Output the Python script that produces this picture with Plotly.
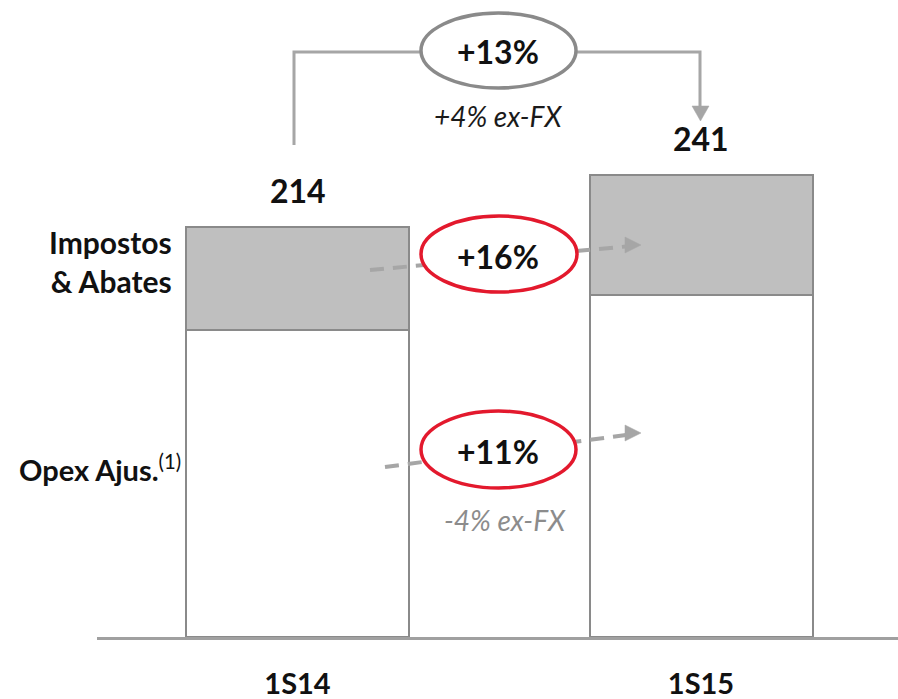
import plotly.graph_objects as go

# Data
periods = ["1S14", "1S15"]
opex_ajus = [160.2, 178.4]
impostos_abates = [53.8, 62.6]
totals = [214, 241]
total_growth = "+13%"
total_growth_exfx = "+4% ex-FX"
impostos_growth = "+16%"
opex_growth = "+11%"
opex_growth_exfx = "-4% ex-FX"

W, H = 898, 699
M_L, M_R, M_T, M_B = 97, 0, 0, 62
PLOT_W = W - M_L - M_R
PLOT_H = H - M_T - M_B

X_RANGE = [-0.4969, 1.4882]
Y_RANGE = [0, 332.5]


def dx(px):
    """Horizontal page pixel -> x axis value."""
    return X_RANGE[0] + (px - M_L) / PLOT_W * (X_RANGE[1] - X_RANGE[0])


def dy(py):
    """Vertical page pixel -> y axis value."""
    return Y_RANGE[0] + (H - M_B - py) / PLOT_H * (Y_RANGE[1] - Y_RANGE[0])


FONT = "Lato"
BAR_LINE = "#8a8a8a"
ARROW_GREY = "#a6a6a6"
RED = "#e3192d"

fig = go.Figure()
fig.add_trace(go.Bar(
    x=periods, y=opex_ajus, width=0.5527,
    marker=dict(color="white", line=dict(color=BAR_LINE, width=2)),
    hoverinfo="skip",
))
fig.add_trace(go.Bar(
    x=periods, y=impostos_abates, width=0.5527,
    marker=dict(color="#bfbfbf", line=dict(color=BAR_LINE, width=2)),
    hoverinfo="skip",
))

shapes = []


def path(points):
    return "M " + " L ".join(f"{dx(a)},{dy(b)}" for a, b in points)


def triangle(points):
    return path(points) + " Z"


# Bracket from the 1S14 total to the 1S15 total
shapes.append(dict(type="path", path=path([(294, 145), (294, 52), (700, 52), (700, 107)]),
                   line=dict(color=ARROW_GREY, width=3), layer="above"))
shapes.append(dict(type="path", path=triangle([(692, 106), (709, 106), (700.5, 121)]),
                   fillcolor=ARROW_GREY, line=dict(color=ARROW_GREY, width=0.5), layer="above"))

# Dashed trend arrows
for (x0, y0), (x1, y1), tip in [((370, 270), (626, 246.5), (641, 245)),
                                 ((385, 467), (626, 435), (641, 433))]:
    shapes.append(dict(type="line", x0=dx(x0), y0=dy(y0), x1=dx(x1), y1=dy(y1),
                       line=dict(color=ARROW_GREY, width=4, dash="14px,9px"), layer="above"))
    tx, ty = tip
    shapes.append(dict(type="path", path=triangle([(tx - 16, ty - 8), (tx - 16, ty + 8), (tx, ty)]),
                       fillcolor=ARROW_GREY, line=dict(color=ARROW_GREY, width=0.5), layer="above"))

# Ellipses around the growth figures
for (x0, y0, x1, y1), col in [((421, 13, 576, 88), "#8a8a8a"),
                              ((421, 216, 577, 292), RED),
                              ((421, 411, 576, 488), RED)]:
    shapes.append(dict(type="circle", x0=dx(x0), x1=dx(x1), y0=dy(y0), y1=dy(y1),
                       fillcolor="white", line=dict(color=col, width=3.5), layer="above"))

annotations = []
# Totals above the bars
for p, t in zip(periods, totals):
    annotations.append(dict(x=p, y=t, text=f"<b>{t}</b>", showarrow=False, yanchor="bottom",
                            yshift=15, font=dict(family=FONT, size=32, color="#111111")))

# Growth figures
annotations += [
    dict(x=dx(498), y=dy(51), text=f"<b>{total_growth}</b>", showarrow=False,
         font=dict(family=FONT, size=32, color="#111111")),
    dict(x=dx(498), y=dy(116), text=f"<i>{total_growth_exfx}</i>", showarrow=False,
         font=dict(family=FONT, size=28, color="#1a1a1a")),
    dict(x=dx(498), y=dy(256), text=f"<b>{impostos_growth}</b>", showarrow=False,
         font=dict(family=FONT, size=32, color="#111111")),
    dict(x=dx(498), y=dy(451), text=f"<b>{opex_growth}</b>", showarrow=False,
         font=dict(family=FONT, size=32, color="#111111")),
    dict(x=dx(505), y=dy(520), text=f"<i>{opex_growth_exfx}</i>", showarrow=False,
         font=dict(family=FONT, size=28, color="#8c8c8c")),
]

# Series labels on the left
annotations += [
    dict(xref="paper", x=(174 - M_L) / PLOT_W, xanchor="right", y=dy(261), yanchor="middle",
         text="<b>Impostos<br>& Abates</b>", align="right", showarrow=False,
         font=dict(family=FONT, size=30, color="#111111")),
    dict(xref="paper", x=(183 - M_L) / PLOT_W, xanchor="right", y=dy(468), yanchor="middle",
         text="<b>Opex Ajus.</b><sup>(1)</sup>", align="right", showarrow=False,
         font=dict(family=FONT, size=29, color="#111111")),
]

fig.update_layout(
    width=W, height=H,
    margin=dict(l=M_L, r=M_R, t=M_T, b=M_B),
    barmode="stack",
    showlegend=False,
    plot_bgcolor="white",
    paper_bgcolor="white",
    shapes=shapes,
    annotations=annotations,
    xaxis=dict(range=X_RANGE, showgrid=False, zeroline=False, showline=True, automargin=False,
               linecolor="#a0a0a0", linewidth=3, ticks="", ticklabelstandoff=19,
               tickfont=dict(family=FONT, size=29, color="#111111", weight="bold")),
    yaxis=dict(range=Y_RANGE, visible=False, showgrid=False, zeroline=False, automargin=False),
)

fig.write_html("out.html")
